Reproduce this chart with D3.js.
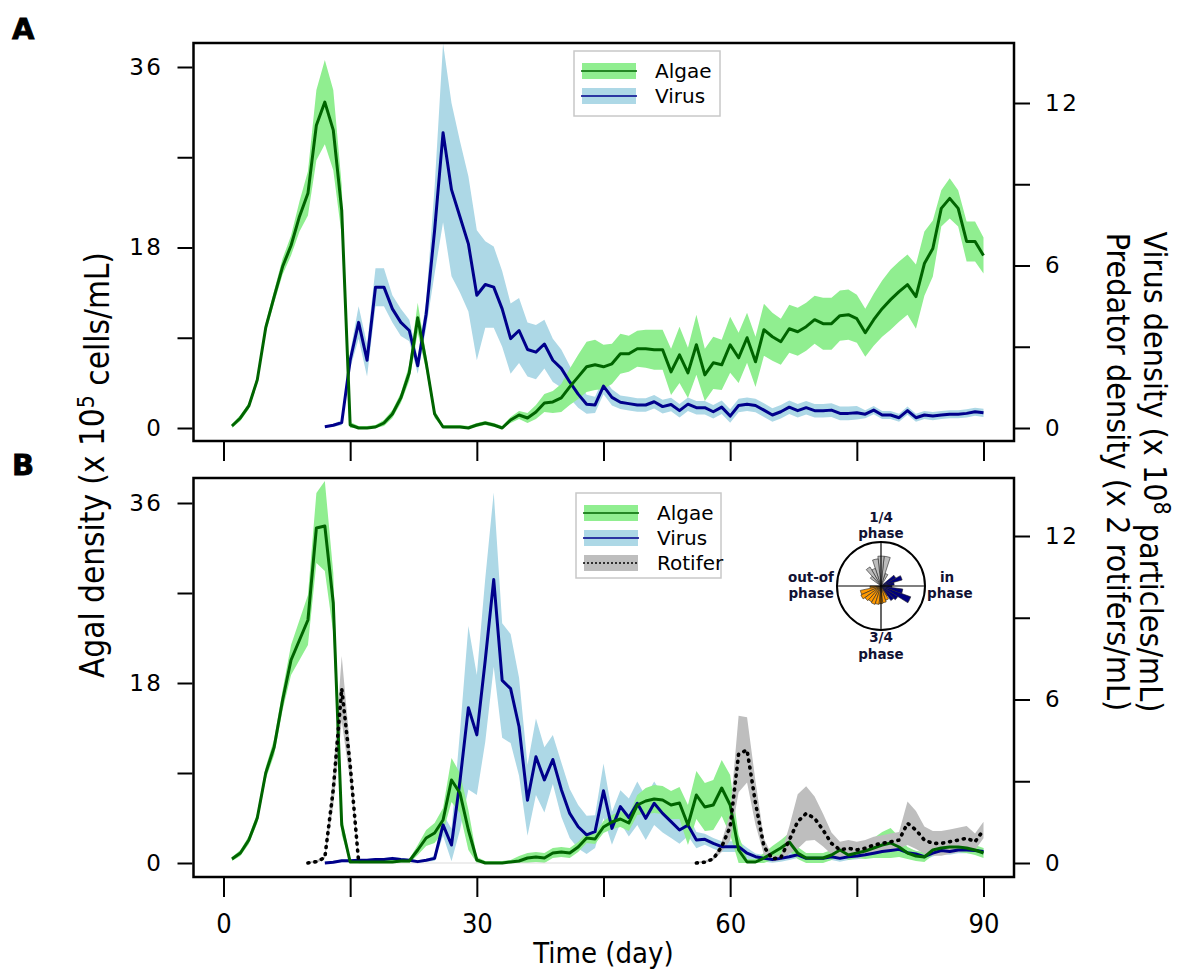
<!DOCTYPE html>
<html><head><meta charset="utf-8">
<script src="https://cdn.jsdelivr.net/npm/d3@7"></script>
<style>body{margin:0;background:#fff}</style>
</head><body>
<svg id="c" width="1188" height="971"></svg>
<script>
// ---------------- DATA ----------------
// Panel A, algae (x10^5 cells/mL), days 1..90
const algaeA = [0.2,1.0,2.2,4.8,10.0,13.1,16.1,18.2,21.1,23.4,30.2,32.5,29.7,21.7,0.3,0.0,0.0,0.1,0.5,1.4,
  3.0,5.5,11.0,6.5,1.4,0.1,0.1,0.1,0.0,0.3,0.5,0.3,0.0,0.8,1.3,1.0,1.6,2.5,2.6,3.0,
  4.1,5.1,6.1,6.3,6.1,6.4,7.4,7.4,7.9,7.9,7.8,7.8,5.6,7.3,5.5,8.3,5.3,6.5,6.3,8.3,
  7.0,9.0,6.6,9.8,9.1,8.6,9.9,9.6,10.1,10.8,10.4,10.4,11.2,11.3,10.9,9.5,10.8,11.9,12.8,13.6,
  14.3,13.1,16.4,17.9,21.9,22.9,21.9,18.6,18.6,17.2];
const algaeAsd = [0.2,0.3,0.3,0.4,0.5,0.6,0.8,1.0,1.5,2.2,3.5,4.2,4.0,2.5,0.3,0.2,0.2,0.2,0.3,0.4,
  0.5,0.8,1.5,0.8,0.4,0.2,0.2,0.2,0.2,0.2,0.2,0.2,0.2,0.3,0.4,0.5,0.7,0.9,1.1,1.4,
  1.8,2.2,2.5,2.5,2.2,2.0,2.0,1.8,1.8,1.9,2.0,2.0,2.3,2.8,2.5,3.0,2.6,2.6,2.5,2.8,
  2.5,2.5,2.5,2.6,2.4,2.3,2.4,2.4,2.4,2.4,2.6,2.6,2.5,2.5,2.4,2.4,2.6,2.8,3.0,3.0,
  3.0,3.2,3.2,2.8,1.8,2.0,1.8,2.0,2.0,1.8];
// Panel A, virus (x10^8 particles/mL), days 12..90
const virusA = [0.05,0.1,0.2,2.5,3.9,2.5,5.2,5.2,4.4,3.9,3.6,2.3,4.2,7.3,10.9,8.8,7.8,6.8,4.9,
  5.3,5.2,4.4,3.3,3.6,2.9,2.8,3.1,2.5,2.2,1.7,1.25,0.88,0.85,1.55,1.13,0.95,0.9,0.85,
  0.85,0.97,0.79,0.87,0.64,0.88,0.75,0.75,0.6,0.77,0.44,0.83,0.88,0.83,0.66,0.48,0.6,0.77,0.64,0.75,
  0.64,0.64,0.66,0.54,0.54,0.56,0.51,0.66,0.48,0.48,0.38,0.64,0.38,0.48,0.44,0.48,0.51,0.51,0.54,0.6,0.56];
const virusAsd = [0.02,0.05,0.1,0.3,0.6,0.6,0.7,0.7,0.5,0.5,0.4,0.3,0.5,1.6,3.3,3.2,2.8,2.5,2.4,
  1.6,1.5,1.4,1.3,1.2,1.0,1.0,0.9,0.8,0.7,0.6,0.5,0.35,0.3,0.3,0.3,0.25,0.25,0.25,
  0.25,0.25,0.25,0.25,0.25,0.25,0.25,0.25,0.25,0.25,0.25,0.25,0.25,0.25,0.25,0.25,0.25,0.25,0.25,0.25,
  0.25,0.25,0.25,0.25,0.25,0.25,0.15,0.15,0.15,0.15,0.15,0.15,0.15,0.15,0.15,0.15,0.15,0.15,0.15,0.15,0.15];
// Panel B, algae, days 1..90
const algaeB = [0.4,1.0,2.3,4.5,9.0,11.6,16.3,20.3,22.3,24.3,33.5,33.7,26.0,3.8,0.1,0.1,0.1,0.1,0.1,0.1,
  0.2,0.2,1.3,2.5,3.0,4.3,8.3,7.0,3.3,0.3,0.0,0.0,0.0,0.1,0.2,0.5,0.6,0.5,1.0,1.1,
  1.0,1.6,2.5,2.4,3.6,4.1,4.4,4.0,5.8,6.2,6.4,6.3,5.8,6.0,3.8,6.8,5.6,5.8,7.5,5.8,
  1.3,0.1,0.1,0.5,1.0,1.5,2.1,1.0,0.5,0.5,0.5,0.8,1.3,0.8,1.0,1.2,1.5,1.8,2.0,1.6,
  1.0,0.7,0.6,1.3,1.5,1.6,1.6,1.5,1.3,1.0];
const algaeBsd = [0.2,0.3,0.4,0.5,0.6,0.8,1.0,1.5,2.0,2.5,3.5,4.5,3.0,1.0,0.2,0.2,0.2,0.2,0.2,0.2,
  0.2,0.2,0.5,0.8,1.0,1.2,2.2,2.0,2.0,0.3,0.2,0.2,0.2,0.2,0.5,0.5,0.5,0.5,0.5,0.5,
  0.5,0.5,0.5,0.5,0.6,0.7,0.8,0.8,1.0,1.3,1.4,1.4,1.4,1.6,2.0,2.4,2.4,2.5,2.8,3.0,
  1.5,0.3,0.3,0.5,0.7,0.8,0.9,0.6,0.5,0.5,0.5,0.5,0.5,0.5,0.5,0.8,1.0,1.3,1.5,1.0,
  0.6,0.5,0.5,0.5,0.5,0.5,0.5,0.5,0.5,0.5];
// Panel B, virus, days 12..90
const virusB = [0.0,0.03,0.08,0.08,0.1,0.1,0.13,0.13,0.17,0.13,0.1,0.05,0.1,0.17,1.4,0.66,3.0,5.7,4.7,
  7.45,10.4,6.7,6.4,5.0,2.3,3.9,3.05,3.8,2.7,1.82,1.33,1.03,1.15,2.65,1.27,2.07,1.67,2.19,
  1.64,2.19,1.82,1.52,1.21,1.39,0.84,0.87,0.72,0.6,0.6,0.6,0.36,0.23,0.17,0.13,0.17,0.23,0.3,0.17,
  0.17,0.17,0.23,0.17,0.23,0.26,0.3,0.36,0.42,0.46,0.5,0.38,0.33,0.23,0.36,0.46,0.42,0.48,0.48,0.46,0.42];
const virusBsd = [0.05,0.05,0.05,0.05,0.05,0.05,0.05,0.05,0.05,0.05,0.05,0.05,0.05,0.1,0.4,0.6,1.8,3.0,2.2,
  3.0,3.2,2.1,2.0,1.8,1.3,1.4,1.2,0.9,1.0,0.9,0.8,0.7,0.6,1.0,0.6,0.6,0.7,0.8,
  0.8,0.8,0.7,0.6,0.5,0.4,0.3,0.2,0.2,0.2,0.2,0.2,0.2,0.12,0.12,0.12,0.12,0.12,0.12,0.12,
  0.12,0.12,0.12,0.12,0.12,0.12,0.12,0.12,0.12,0.12,0.12,0.12,0.12,0.12,0.12,0.12,0.12,0.12,0.12,0.12,0.12];
// Panel B, rotifer (x2 rotifers/mL): days 10..16, then days 56..90 (zero and undrawn in between)
const rotiferEarly = [0,0.05,0.2,2.7,6.4,3.6,0.05];
const rotiferEarlySd = [0.05,0.05,0.05,0.6,1.2,0.6,0.05];
const rotiferLate = [0,0.03,0.15,0.6,1.33,4.0,4.15,2.2,0.6,0.15,0.2,0.84,1.52,1.82,1.64,1.21,0.72,0.48,0.54,0.48,
  0.54,0.66,0.72,0.78,0.84,1.46,1.21,0.84,0.72,0.72,0.78,0.84,0.91,0.78,1.21];
const rotiferLateSd = [0.05,0.05,0.05,0.2,0.5,1.4,1.2,0.8,0.3,0.1,0.1,0.5,1.0,1.0,0.8,0.6,0.4,0.3,0.3,0.3,
  0.3,0.3,0.3,0.3,0.3,0.8,0.7,0.5,0.45,0.45,0.45,0.45,0.45,0.3,0.3];
const rotiferGap = [16,56]; // days between which rotifers sit at 0
// Rose inset: [bin centre angle (deg, counter-clockwise from "in phase"), relative radius]
const roseRotifer = [[65,0.3],[78,0.68],[90,0.68],[102,0.62],[114,0.42],[126,0.5],[138,0.3]];
const roseVirus = [[-2,0.25],[10,0.3],[22,0.5],[34,0.38],[-14,0.5],[-26,0.72],[-38,0.45],[-50,0.4]];
const roseAlgae = [[186,0.25],[198,0.48],[210,0.5],[222,0.45],[234,0.42],[246,0.44],[258,0.42],[270,0.4],[282,0.38],[294,0.34],[306,0.26]];
const xTicks = [0,15,30,45,60,75,90];
const xLabels = [0,30,60,90];
const leftTicks = [0,9,18,27,36];
const leftLabels = [0,18,36];
const rightTicks = [0,3,6,9,12];
const rightLabels = [0,6,12];

// ---------------- STYLE ----------------
const C = {algLine:"#006400", algBand:"#90ee90", virLine:"#00008b", virBand:"#add8e6",
           rotBand:"#bebebe", rotLine:"#000"};
const TICKFONT = "'DejaVu Sans', Verdana, sans-serif";
const TITLEFONT = "'Liberation Sans Narrow','DejaVu Sans Condensed','Roboto Condensed',Arial,sans-serif";

const svg = d3.select("#c");
const L = 193.5, R = 1014;
const x = d3.scaleLinear().domain([0,90]).range([223.5,983.5]);

const panels = [
  {name:"A", top:43, bottom:441, yL:d3.scaleLinear().domain([0,36]).range([428,67]),
   yR:d3.scaleLinear().domain([0,12]).range([428,103])},
  {name:"B", top:478, bottom:877, yL:d3.scaleLinear().domain([0,36]).range([863,503]),
   yR:d3.scaleLinear().domain([0,12]).range([863,536])}
];

function series(vals, sds, start){
  return vals.map((v,i)=>({d:start+i, v:v, lo:v==null?0:Math.max(0,v-sds[i]), hi:v==null?0:v+sds[i]}));
}

panels.forEach((p,pi)=>{
  const clipId = "clip"+pi;
  svg.append("clipPath").attr("id",clipId).append("rect")
    .attr("x",L).attr("y",p.top).attr("width",R-L).attr("height",p.bottom-p.top);
  const g = svg.append("g").attr("clip-path",`url(#${clipId})`);
  const area = y => d3.area().x(d=>x(d.d)).y0(d=>y(d.lo)).y1(d=>y(d.hi));
  const line = y => d3.line().defined(d=>d.v!=null).x(d=>x(d.d)).y(d=>y(d.v));
  const alg = series(pi===0?algaeA:algaeB, pi===0?algaeAsd:algaeBsd, 1);
  const vir = series(pi===0?virusA:virusB, pi===0?virusAsd:virusBsd, 12);
  g.append("path").datum(vir).attr("d",area(p.yR)).attr("fill",C.virBand);
  g.append("path").datum(alg).attr("d",area(p.yL)).attr("fill",C.algBand);
  let rotE=null, rotL=null;
  if(pi===1){
    rotE = series(rotiferEarly, rotiferEarlySd, 10);
    rotL = series(rotiferLate, rotiferLateSd, 56);
    g.append("line").attr("x1",x(rotiferGap[0])).attr("x2",x(rotiferGap[1]))
      .attr("y1",p.yR(0)).attr("y2",p.yR(0)).attr("stroke","#dcdcdc").attr("stroke-width",1.2);
    [rotE,rotL].forEach(r=>g.append("path").datum(r).attr("d",area(p.yR)).attr("fill",C.rotBand));
  }
  g.append("path").datum(vir).attr("d",line(p.yR)).attr("fill","none")
    .attr("stroke",C.virLine).attr("stroke-width",3).attr("stroke-linejoin","round");
  g.append("path").datum(alg).attr("d",line(p.yL)).attr("fill","none")
    .attr("stroke",C.algLine).attr("stroke-width",3).attr("stroke-linejoin","round");
  if(rotE){
    [rotE,rotL].forEach(r=>g.append("path").datum(r).attr("d",line(p.yR)).attr("fill","none")
      .attr("stroke",C.rotLine).attr("stroke-width",3.6).attr("stroke-linecap","round")
      .attr("stroke-dasharray","1,6"));
  }
  svg.append("rect").attr("x",L).attr("y",p.top).attr("width",R-L).attr("height",p.bottom-p.top)
    .attr("fill","none").attr("stroke","#000").attr("stroke-width",2.5);
  const la = svg.append("g").attr("transform",`translate(${L-1},0)`)
    .call(d3.axisLeft(p.yL).tickValues(leftTicks).tickSize(15).tickPadding(14)
      .tickFormat(d=>leftLabels.includes(d)?d:""));
  const ra = svg.append("g").attr("transform",`translate(${R+1},0)`)
    .call(d3.axisRight(p.yR).tickValues(rightTicks).tickSize(15).tickPadding(15)
      .tickFormat(d=>rightLabels.includes(d)?d:""));
  [la,ra].forEach(a=>{
    a.select(".domain").remove();
    a.selectAll(".tick line").attr("stroke","#000").attr("stroke-width",2);
    a.selectAll(".tick text").attr("font-family",TICKFONT).attr("font-size",23)
      .attr("letter-spacing","2.5px").attr("fill","#000");
  });
  const ba = svg.append("g").attr("transform",`translate(0,${p.bottom+1})`)
    .call(d3.axisBottom(x).tickValues(xTicks).tickSize(19).tickPadding(17)
      .tickFormat(d=>(pi===1 && xLabels.includes(d))?d:""));
  ba.select(".domain").remove();
  ba.selectAll(".tick line").attr("stroke","#000").attr("stroke-width",2);
  ba.selectAll(".tick text").attr("font-family",TITLEFONT).attr("font-size",27).attr("fill","#000");
  svg.append("text").attr("x",12).attr("y",pi===0?39:475).text(p.name)
    .attr("font-family","'DejaVu Sans',Arial,sans-serif").attr("font-weight","900")
    .attr("font-size",29).attr("fill","#000").attr("stroke","#000").attr("stroke-width",0.8);
});

// ---------------- LEGENDS ----------------
function legend(x0,y0,w,h,items){
  const g = svg.append("g");
  g.append("rect").attr("x",x0).attr("y",y0).attr("width",w).attr("height",h)
    .attr("fill","#fff").attr("stroke","#c8c8c8").attr("stroke-width",1.5);
  items.forEach((it,i)=>{
    const cy = y0+20+i*25;
    g.append("rect").attr("x",x0+8).attr("y",cy-8).attr("width",54).attr("height",16).attr("fill",it.band);
    g.append("line").attr("x1",x0+7).attr("x2",x0+63).attr("y1",cy).attr("y2",cy)
      .attr("stroke",it.line).attr("stroke-width",1.4).attr("stroke-dasharray",it.dash||null);
    g.append("text").attr("x",x0+81).attr("y",cy).attr("dy","0.36em").text(it.label)
      .attr("font-family",TICKFONT).attr("font-size",20).attr("fill","#000");
  });
}
legend(574,51,146,65,[
  {label:"Algae",band:C.algBand,line:C.algLine},
  {label:"Virus",band:C.virBand,line:C.virLine}]);
legend(576,493,145,85,[
  {label:"Algae",band:C.algBand,line:C.algLine},
  {label:"Virus",band:C.virBand,line:C.virLine},
  {label:"Rotifer",band:C.rotBand,line:"#000",dash:"2,2"}]);

// ---------------- ROSE INSET ----------------
const cx=881, cy=586, rr=44;
const ins = svg.append("g");
ins.append("circle").attr("cx",cx).attr("cy",cy).attr("r",rr).attr("fill","#fff")
  .attr("stroke","#000").attr("stroke-width",2);
const rad = d3.scaleLinear().domain([0,1]).range([0,rr]);
const arc = d3.arc().innerRadius(0);
function rose(bins, fill){
  bins.forEach(([a,r])=>{
    const c = (90 - a) * Math.PI/180, hw = 6*Math.PI/180;
    ins.append("path").attr("transform",`translate(${cx},${cy})`)
      .attr("d",arc({outerRadius:rad(r),startAngle:c-hw,endAngle:c+hw}))
      .attr("fill",fill).attr("stroke","#222").attr("stroke-width",0.6);
  });
}
rose(roseRotifer,"#bdbdbd");
rose(roseAlgae,"#ff9900");
rose(roseVirus,"#000080");
ins.append("line").attr("x1",cx-rr).attr("x2",cx+rr).attr("y1",cy).attr("y2",cy).attr("stroke","#000").attr("stroke-width",1.2);
ins.append("line").attr("x1",cx).attr("x2",cx).attr("y1",cy-rr).attr("y2",cy+rr).attr("stroke","#000").attr("stroke-width",1.2);
const lab = (t,xx,yy,anchor)=>ins.append("text").attr("x",xx).attr("y",yy).attr("dy","0.35em")
  .attr("text-anchor",anchor).text(t).attr("font-family",TICKFONT).attr("font-weight","bold")
  .attr("font-size",13.5).attr("fill","#111133");
lab("1/4",cx,517,"middle"); lab("phase",cx,533,"middle");
lab("3/4",cx,637,"middle"); lab("phase",cx,654,"middle");
lab("out-of",834,577,"end"); lab("phase",834,593,"end");
lab("in",947,577,"middle"); lab("phase",927,593,"start");

// ---------------- AXIS TITLES ----------------
const lt = svg.append("text").attr("transform","translate(104,465) rotate(-90)")
  .attr("text-anchor","middle").attr("font-family",TITLEFONT).attr("font-size",33).attr("fill","#000");
lt.append("tspan").text("Agal density (x 10");
lt.append("tspan").text("5").attr("dy","-0.45em").attr("font-size",23);
lt.append("tspan").text(" cells/mL)").attr("dy","0.45em");

const rt1 = svg.append("text").attr("transform","translate(1144,472) rotate(90)")
  .attr("text-anchor","middle").attr("font-family",TITLEFONT).attr("font-size",32).attr("fill","#000");
rt1.append("tspan").text("Virus density (x 10");
rt1.append("tspan").text("8").attr("dy","-0.45em").attr("font-size",23);
rt1.append("tspan").text(" particles/mL)").attr("dy","0.45em");
svg.append("text").attr("transform","translate(1107,472) rotate(90)")
  .attr("text-anchor","middle").attr("font-family",TITLEFONT).attr("font-size",32).attr("fill","#000")
  .text("Predator density (x 2 rotifers/mL)");

svg.append("text").attr("x",x(45)).attr("y",963).attr("text-anchor","middle")
  .attr("font-family",TITLEFONT).attr("font-size",29).attr("fill","#000").text("Time (day)");
</script>
</body></html>
